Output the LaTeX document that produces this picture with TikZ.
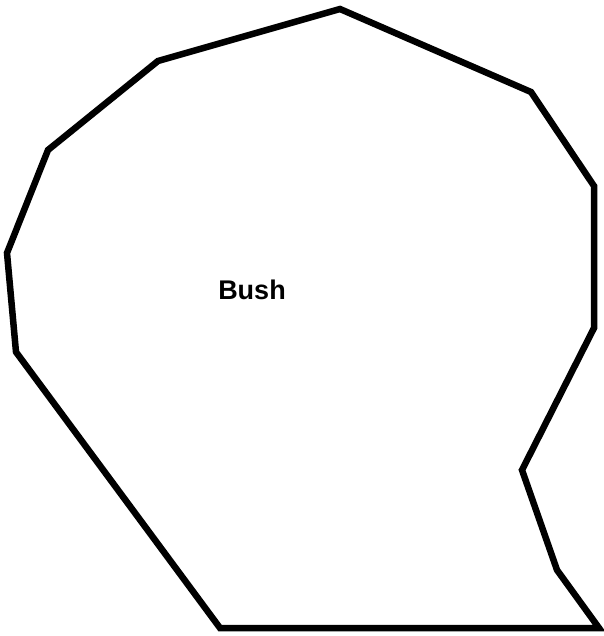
\documentclass[tikz,border=0pt]{standalone}
\usepackage{fontspec}
\setmainfont{Liberation Sans}
\tikzset{bushline/.style={draw=black,line width=6.5pt,line join=miter},
  lbl/.style={font=\fontsize{27}{30}\selectfont\bfseries,inner sep=0pt}}
\begin{document}
\begin{tikzpicture}[x=1pt,y=-1pt]
\useasboundingbox (0,0) rectangle (603,636);
\draw[bushline] (340,9) -- (531,92) -- (594,186) -- (594,328) -- (522,470) -- (557,570) -- (599,628) -- (220,628) -- (16,352) -- (7,253) -- (48,150) -- (158,61) -- cycle;
\node[lbl] (bush) at (252,290) {Bush};
\end{tikzpicture}
\end{document}
